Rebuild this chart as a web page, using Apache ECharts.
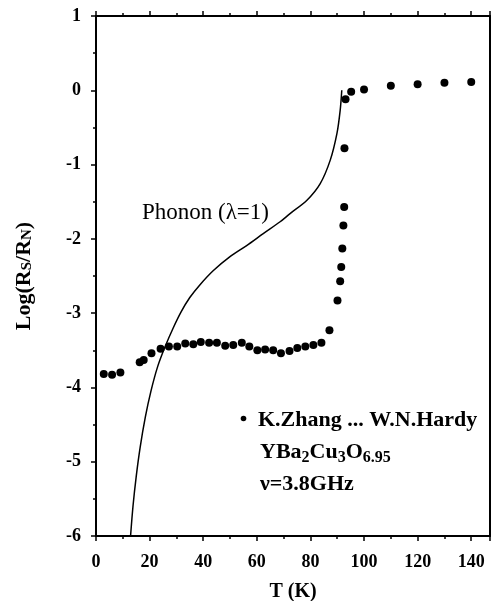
<!DOCTYPE html>
<html>
<head>
<meta charset="utf-8">
<script src="https://cdn.jsdelivr.net/npm/echarts@6/dist/echarts.min.js"></script>
<style>
html,body{margin:0;padding:0;background:#fff;}
#chart{width:491px;height:601px;}
</style>
</head>
<body>
<div id="chart"></div>
<script>
// Measured data: K.Zhang ... W.N.Hardy, YBa2Cu3O6.95, 3.8 GHz
const dataT = [2.9, 6.0, 9.1, 16.3, 17.8, 20.7, 24.1, 27.2, 30.3, 33.3, 36.3, 39.1, 42.2, 45.1, 48.2, 51.2, 54.4, 57.2,
  60.2, 63.1, 66.1, 69.0, 72.2, 75.1, 78.1, 81.1, 84.1, 87.1,
  90.1, 91.1, 91.5, 91.9, 92.3, 92.6, 92.7, 93.1, 95.2,
  100, 110, 120, 130, 140];
const dataLogR = [-3.82, -3.83, -3.80, -3.66, -3.63, -3.54, -3.48, -3.45, -3.45, -3.41, -3.42, -3.39, -3.40, -3.40, -3.44, -3.43, -3.40, -3.45,
  -3.50, -3.49, -3.50, -3.54, -3.51, -3.47, -3.45, -3.43, -3.40, -3.23,
  -2.83, -2.57, -2.38, -2.13, -1.82, -1.57, -0.78, -0.12, -0.02,
  0.01, 0.06, 0.08, 0.10, 0.11];
// Phonon (lambda = 1) model curve
const phononT = [12.9, 13.8, 15.0, 16.5, 18.4, 20.5, 23.0, 25.8, 28.8, 31.8, 35.0, 38.5, 43.7, 50.0, 56.2, 62.4, 68.7, 72.4, 78.7, 83.6, 87.4, 89.9, 91.1, 91.7];
const phononLogR = [-6.0, -5.6, -5.2, -4.8, -4.4, -4.05, -3.72, -3.45, -3.20, -2.98, -2.79, -2.63, -2.43, -2.24, -2.09, -1.93, -1.77, -1.66, -1.48, -1.26, -0.94, -0.58, -0.27, 0.0];
// Axis settings
const xMin = 0, xMax = 147, xMajor = 20, xMinor = 10;
const yMin = -6, yMax = 1, yMajor = 1;
const phononLabel = 'Phonon (λ=1)';
const seriesLabel = 'K.Zhang ... W.N.Hardy';

const FONT = '"Liberation Serif", "Times New Roman", serif';
const chart = echarts.init(document.getElementById('chart'), null, {renderer: 'canvas'});

const baseX = (pos, interval, tickLen, withLine, withLabels) => ({
  type: 'value', position: pos, min: xMin, max: xMax, interval: interval,
  axisLine: {show: withLine, onZero: false, lineStyle: {color: '#000', width: 2}},
  axisTick: {show: true, length: tickLen, lineStyle: {color: '#000', width: 1.5}},
  splitLine: {show: false},
  axisLabel: withLabels ? {
    show: true, margin: 17, color: '#000', fontFamily: FONT, fontSize: 18, fontWeight: 'bold',
    formatter: v => (v % xMajor === 0 ? String(v) : '')
  } : {show: false}
});

const xAxes = [
  Object.assign(baseX('bottom', xMajor, 5, true, true), {
    name: 'T (K)', nameLocation: 'middle', nameGap: 46,
    nameTextStyle: {color: '#000', fontFamily: FONT, fontSize: 20, fontWeight: 'bold'}
  }),
  baseX('bottom', xMinor, 3, false, false),
  baseX('top', xMajor, 5, true, false),
  baseX('top', xMinor, 3, false, false)
];

const yAxes = [
  {
    type: 'value', position: 'left', min: yMin, max: yMax, interval: yMajor,
    name: '{a|Log(R}{s|S}{a|/R}{s|N}{a|)}', nameLocation: 'middle', nameRotate: 90, nameGap: 61,
    nameTextStyle: {
      rich: {
        a: {fontFamily: FONT, fontSize: 22, fontWeight: 'bold', color: '#000'},
        s: {fontFamily: FONT, fontSize: 15, fontWeight: 'bold', color: '#000', verticalAlign: 'bottom'}
      }
    },
    axisLine: {show: true, onZero: false, lineStyle: {color: '#000', width: 2}},
    axisTick: {show: true, length: 5, lineStyle: {color: '#000', width: 1.5}},
    minorTick: {show: true, splitNumber: 2, length: 3, lineStyle: {color: '#000', width: 1.5}},
    splitLine: {show: false},
    axisLabel: {margin: 15, color: '#000', fontFamily: FONT, fontSize: 18, fontWeight: 'bold'}
  },
  {
    type: 'value', position: 'right', min: yMin, max: yMax, interval: yMajor,
    axisLine: {show: true, onZero: false, lineStyle: {color: '#000', width: 2}},
    axisTick: {show: false}, axisLabel: {show: false}, splitLine: {show: false}
  }
];

const option = {
  backgroundColor: '#fff',
  animation: false,
  grid: {left: 96, right: 1, top: 16, bottom: 65, containLabel: false, outerBoundsMode: 'none'},
  xAxis: xAxes,
  yAxis: yAxes,
  series: [
    {
      name: phononLabel, type: 'line', xAxisIndex: 0, yAxisIndex: 0,
      data: phononT.map((t, i) => [t, phononLogR[i]]),
      showSymbol: false, smooth: 0.3,
      lineStyle: {color: '#000', width: 1.5}, z: 2
    },
    {
      name: seriesLabel, type: 'scatter', xAxisIndex: 0, yAxisIndex: 0,
      data: dataT.map((t, i) => [t, dataLogR[i]]),
      symbol: 'circle', symbolSize: 8,
      itemStyle: {color: '#000', opacity: 1}, z: 3
    }
  ],
  graphic: [
    {type: 'text', style: {x: 142, y: 213, text: phononLabel, font: '23px ' + FONT, fill: '#000', verticalAlign: 'middle'}},
    {type: 'circle', shape: {cx: 243.5, cy: 418.5, r: 2.8}, style: {fill: '#000'}},
    {type: 'text', style: {x: 258, y: 420.5, text: seriesLabel, font: 'bold 22px ' + FONT, fill: '#000', verticalAlign: 'middle'}},
    {type: 'text', style: {
      x: 260, y: 452.5, verticalAlign: 'middle',
      text: '{m|YBa}{b|2}{m|Cu}{b|3}{m|O}{b|6.95}',
      rich: {
        m: {fontFamily: FONT, fontSize: 22, fontWeight: 'bold', fill: '#000', lineHeight: 26, verticalAlign: 'middle'},
        b: {fontFamily: FONT, fontSize: 16, fontWeight: 'bold', fill: '#000', lineHeight: 26, verticalAlign: 'bottom', padding: [6, 0, 0, 0]}
      }
    }},
    {type: 'text', style: {x: 260, y: 484.5, text: 'ν=3.8GHz', font: 'bold 22px ' + FONT, fill: '#000', verticalAlign: 'middle'}}
  ]
};
chart.setOption(option);
</script>
</body>
</html>
